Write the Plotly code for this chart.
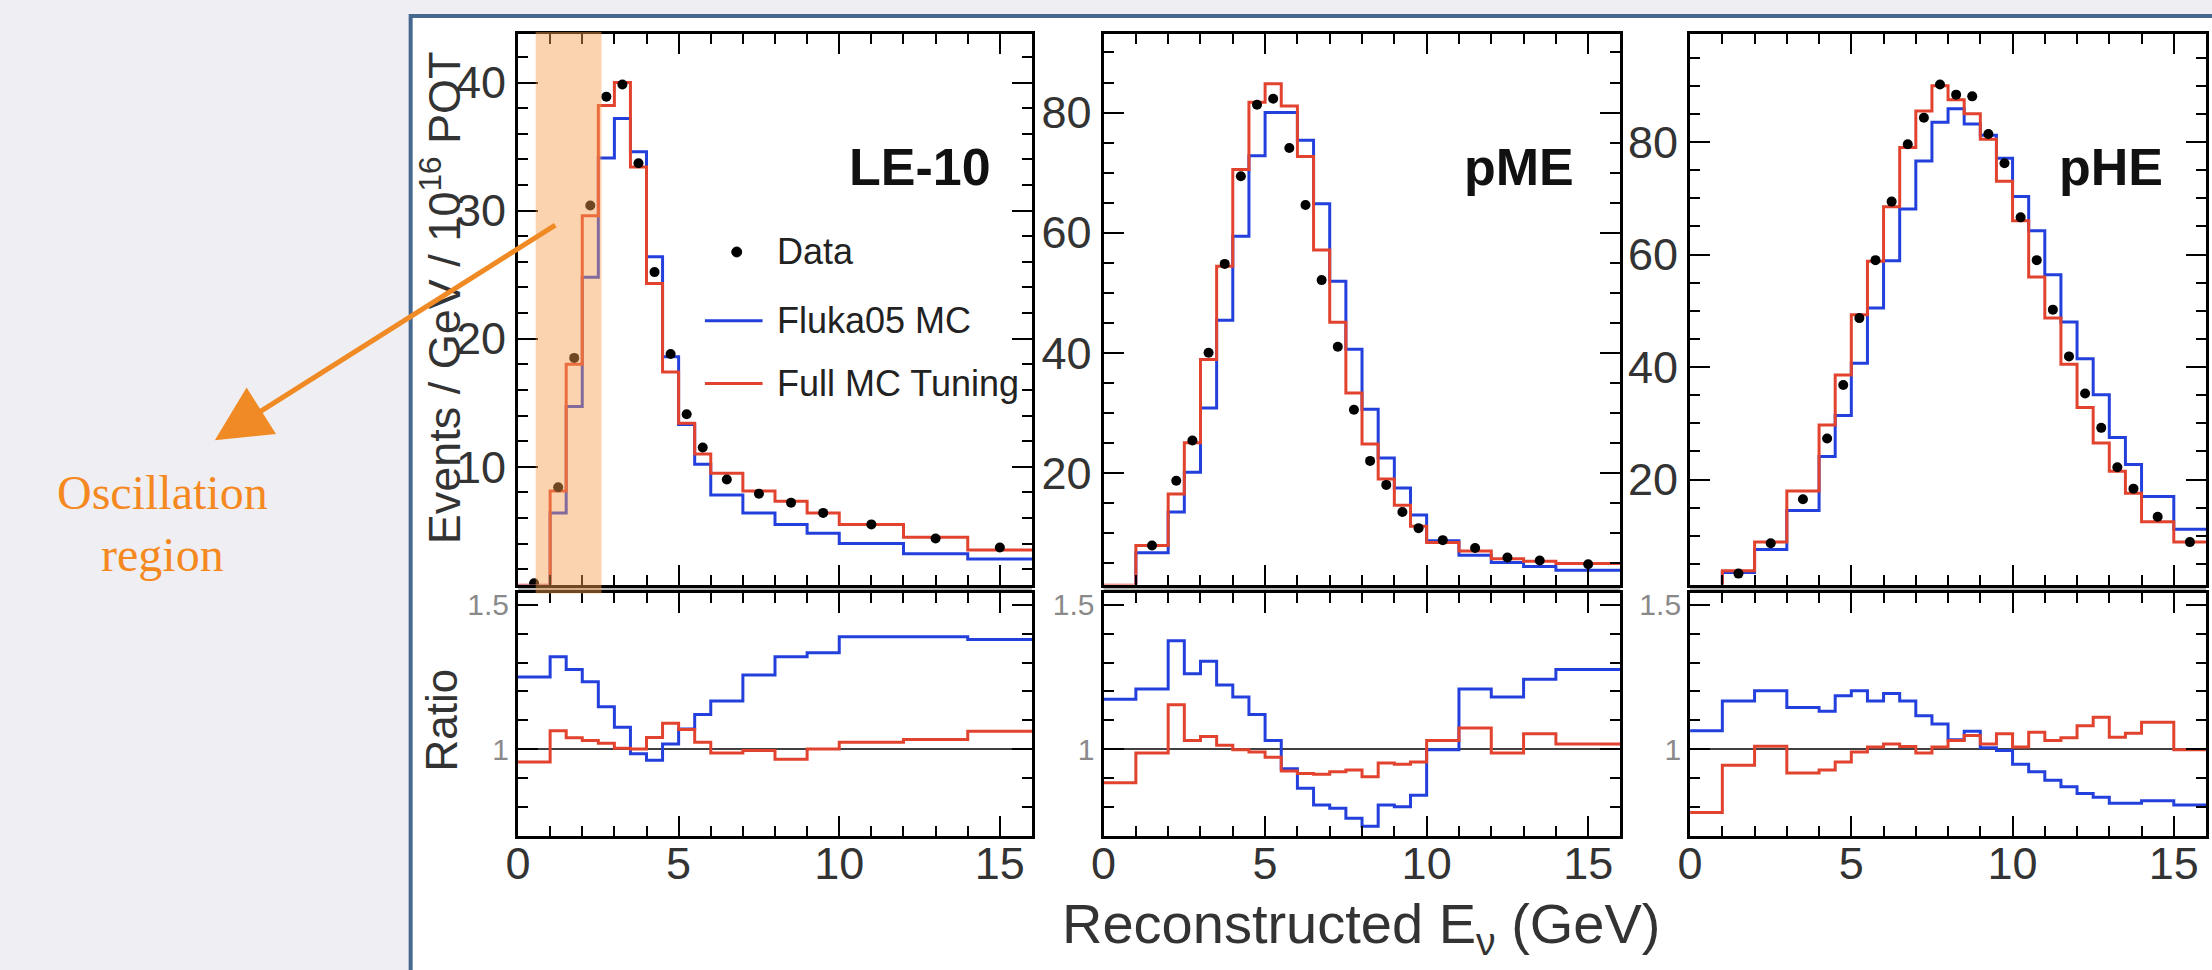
import plotly.graph_objects as go

W, H = 2212, 970

# ---------------- data ----------------
# LE-10 beam
LE_EDGES = [0, 1, 1.5, 2, 2.5, 3, 3.5, 4, 4.5, 5, 5.5, 6, 7, 8, 9, 10, 12, 14, 16]
LE_FLUKA = [0.7, 6.4, 14.7, 24.8, 34.1, 37.2, 34.6, 26.4, 18.6, 13.3, 10.2, 7.8, 6.4, 5.5, 4.8, 4.0, 3.2, 2.8]
LE_TUNED = [0.75, 8.1, 18.0, 29.6, 38.2, 40.0, 33.4, 24.3, 17.4, 13.4, 11.0, 9.5, 8.1, 7.3, 6.4, 5.5, 4.5, 3.5]
LE_DATA_X = [0.5, 1.25, 1.75, 2.25, 2.75, 3.25, 3.75, 4.25, 4.75, 5.25, 5.75, 6.5, 7.5, 8.5, 9.5, 11, 13, 15]
LE_DATA_Y = [0.9, 8.4, 18.5, 30.4, 38.9, 39.85, 33.7, 25.2, 18.8, 14.1, 11.5, 9.0, 7.9, 7.2, 6.4, 5.5, 4.4, 3.7]
LE_RATIO_FLUKA = [1.25, 1.32, 1.276, 1.234, 1.147, 1.076, 0.984, 0.961, 1.018, 1.07, 1.12, 1.167,
                  1.257, 1.32, 1.334, 1.39, 1.39, 1.38]
LE_RATIO_TUNED = [0.955, 1.064, 1.039, 1.03, 1.02, 1.003, 1.0, 1.04, 1.09, 1.068, 1.024, 0.986,
                  0.995, 0.965, 1.0, 1.024, 1.033, 1.062]

# pME beam
ME_EDGES = [0, 1, 2, 2.5, 3, 3.5, 4, 4.5, 5, 5.5, 6, 6.5, 7, 7.5, 8, 8.5, 9, 9.5, 10, 11, 12, 13, 14, 16]
ME_FLUKA = [1.0, 6.7, 13.5, 20.1, 30.8, 45.4, 59.4, 72.8, 80.0, 80.0, 75.4, 64.8, 51.9, 40.6, 30.6,
            22.5, 17.5, 13.0, 8.7, 6.3, 5.1, 4.4, 3.8]
ME_TUNED = [1.3, 7.9, 16.5, 25.0, 38.9, 54.4, 70.5, 81.7, 84.8, 81.1, 72.7, 57.1, 45.1, 33.3, 24.8,
            19.0, 14.6, 11.1, 8.4, 7.0, 5.7, 5.3, 4.9]
ME_DATA_X = [1.5, 2.25, 2.75, 3.25, 3.75, 4.25, 4.75, 5.25, 5.75, 6.25, 6.75, 7.25, 7.75, 8.25, 8.75,
             9.25, 9.75, 10.5, 11.5, 12.5, 13.5, 15]
ME_DATA_Y = [7.9, 18.7, 25.4, 40.0, 54.8, 69.4, 81.3, 82.3, 74.1, 64.6, 52.1, 41.0, 30.5, 22.0, 18.0,
             13.5, 10.8, 8.8, 7.5, 5.9, 5.4, 4.8]
ME_RATIO_FLUKA = [1.173, 1.208, 1.376, 1.261, 1.305, 1.222, 1.181, 1.12, 1.03, 0.932, 0.864, 0.806,
                  0.795, 0.76, 0.732, 0.806, 0.80, 0.84, 0.998, 1.208, 1.181, 1.242, 1.276]
ME_RATIO_TUNED = [0.883, 0.986, 1.154, 1.03, 1.044, 1.013, 0.998, 0.99, 0.972, 0.924, 0.915, 0.913,
                  0.921, 0.927, 0.904, 0.952, 0.947, 0.955, 1.03, 1.073, 0.986, 1.053, 1.018]

# pHE beam
HE_EDGES = [0, 1, 2, 3, 4, 4.5, 5, 5.5, 6, 6.5, 7, 7.5, 8, 8.5, 9, 9.5, 10, 10.5, 11, 11.5, 12, 12.5,
            13, 13.5, 14, 15, 16]
HE_FLUKA = [0.9, 3.5, 7.6, 14.5, 24.1, 31.4, 40.7, 50.5, 58.9, 68.1, 76.6, 83.5, 85.9, 83.2, 81.2,
            77.1, 70.3, 64.2, 56.4, 48.0, 41.5, 35.1, 27.5, 22.7, 17.0, 11.2]
HE_TUNED = [0.9, 3.8, 8.9, 18.0, 29.7, 38.6, 49.3, 58.8, 68.5, 79.0, 85.5, 90.0, 87.5, 85.0, 80.5,
            73.0, 66.0, 56.0, 48.7, 40.5, 32.8, 26.5, 21.5, 17.6, 12.5, 8.9]
HE_DATA_X = [1.5, 2.5, 3.5, 4.25, 4.75, 5.25, 5.75, 6.25, 6.75, 7.25, 7.75, 8.25, 8.75, 9.25, 9.75,
             10.25, 10.75, 11.25, 11.75, 12.25, 12.75, 13.25, 13.75, 14.5, 15.5]
HE_DATA_Y = [3.3, 8.7, 16.5, 27.3, 36.8, 48.7, 59.0, 69.4, 79.6, 84.3, 90.2, 88.4, 88.1, 81.4, 76.2,
             66.6, 59.0, 50.2, 41.9, 35.3, 29.2, 22.2, 18.4, 13.4, 8.9]
HE_RATIO_FLUKA = [1.064, 1.167, 1.202, 1.144, 1.131, 1.185, 1.202, 1.167, 1.193, 1.167, 1.116, 1.087,
                  1.032, 1.062, 1.005, 0.995, 0.947, 0.921, 0.892, 0.869, 0.846, 0.833, 0.812, 0.812,
                  0.821, 0.806]
HE_RATIO_TUNED = [0.78, 0.944, 1.01, 0.917, 0.927, 0.955, 0.99, 1.007, 1.018, 1.009, 0.986, 1.007,
                  1.03, 1.047, 1.018, 1.053, 1.007, 1.058, 1.03, 1.039, 1.081, 1.11, 1.041, 1.055,
                  1.093, 0.998]

PANEL_NAMES = ["LE-10", "pME", "pHE"]
OSC_REGION = [0.55, 2.6]          # GeV, highlighted oscillation region on LE-10
X_RANGE = [0, 16]
TOP_RANGES = [[0.8, 43.8], [1.4, 93.1], [1.35, 99.2]]
TOP_DTICK = [10, 20, 20]
TOP_MINOR = [2, 5, 5]
RATIO_RANGE = [0.70, 1.543]

# ---------------- layout helpers ----------------
def px_x(p):
    return p / W


def px_y(p):
    return 1 - p / H


PANEL_X = [(508, 1025), (1097, 1617), (1687, 2206)]
TOP_Y = (30, 583)
RAT_Y = (591, 835)

FONT = "Liberation Sans, Arial, sans-serif"
BLUE = "#2340dd"
RED = "#e2432f"

panels = [
    (LE_EDGES, LE_FLUKA, LE_TUNED, LE_DATA_X, LE_DATA_Y, LE_RATIO_FLUKA, LE_RATIO_TUNED),
    (ME_EDGES, ME_FLUKA, ME_TUNED, ME_DATA_X, ME_DATA_Y, ME_RATIO_FLUKA, ME_RATIO_TUNED),
    (HE_EDGES, HE_FLUKA, HE_TUNED, HE_DATA_X, HE_DATA_Y, HE_RATIO_FLUKA, HE_RATIO_TUNED),
]

fig = go.Figure()


def step(edges, vals):
    return list(edges), list(vals) + [vals[-1]]


for i, (edges, fl, tu, dx, dy, rfl, rtu) in enumerate(panels):
    xt, yt = ("x" if i == 0 else f"x{2*i+1}"), ("y" if i == 0 else f"y{2*i+1}")
    xr, yr = f"x{2*i+2}", f"y{2*i+2}"
    ex, ey = step(edges, fl)
    fig.add_trace(go.Scatter(x=ex, y=ey, mode="lines", line=dict(shape="hv", color=BLUE, width=3),
                             xaxis=xt, yaxis=yt, showlegend=False, hoverinfo="skip"))
    ex, ey = step(edges, tu)
    fig.add_trace(go.Scatter(x=ex, y=ey, mode="lines", line=dict(shape="hv", color=RED, width=3),
                             xaxis=xt, yaxis=yt, showlegend=False, hoverinfo="skip"))
    fig.add_trace(go.Scatter(x=dx, y=dy, mode="markers",
                             marker=dict(color="black", size=10),
                             error_x=dict(type="constant", value=0.13, thickness=2, width=0, color="black"),
                             xaxis=xt, yaxis=yt, showlegend=False))
    ex, ey = step(edges, rfl)
    fig.add_trace(go.Scatter(x=ex, y=ey, mode="lines", line=dict(shape="hv", color=BLUE, width=3),
                             xaxis=xr, yaxis=yr, showlegend=False, hoverinfo="skip"))
    ex, ey = step(edges, rtu)
    fig.add_trace(go.Scatter(x=ex, y=ey, mode="lines", line=dict(shape="hv", color=RED, width=3),
                             xaxis=xr, yaxis=yr, showlegend=False, hoverinfo="skip"))

common = dict(showline=True, linecolor="black", linewidth=3, mirror="ticks", ticks="inside",
              tickcolor="black", tickwidth=2, showgrid=False, zeroline=False)

layout = dict(
    width=W, height=H, autosize=False,
    margin=dict(l=0, r=0, t=0, b=0),
    paper_bgcolor="#efeff3", plot_bgcolor="white",
    font=dict(family=FONT, color="#333333"),
    showlegend=False,
)

for i in range(3):
    x0, x1 = PANEL_X[i]
    kt = "xaxis" if i == 0 else f"xaxis{2*i+1}"
    kty = "yaxis" if i == 0 else f"yaxis{2*i+1}"
    kr, kry = f"xaxis{2*i+2}", f"yaxis{2*i+2}"
    at = "x" if i == 0 else f"x{2*i+1}"
    ayt = "y" if i == 0 else f"y{2*i+1}"
    layout[kt] = dict(common, domain=[px_x(x0), px_x(x1)], anchor=ayt, range=X_RANGE,
                      tick0=0, dtick=5, ticklen=20, showticklabels=False,
                      minor=dict(dtick=1, ticklen=10, tickwidth=2, tickcolor="black", ticks="inside"))
    layout[kty] = dict(common, domain=[px_y(TOP_Y[1]), px_y(TOP_Y[0])], anchor=at,
                       range=TOP_RANGES[i], tick0=0, dtick=TOP_DTICK[i], ticklen=20,
                       tickfont=dict(size=45, color="#333333", family=FONT),
                       minor=dict(dtick=TOP_MINOR[i], tick0=0, ticklen=10, tickwidth=2,
                                  tickcolor="black", ticks="inside"))
    layout[kr] = dict(common, domain=[px_x(x0), px_x(x1)], anchor=f"y{2*i+2}", range=X_RANGE,
                      tick0=0, dtick=5, ticklen=20, ticklabelstandoff=-14,
                      tickfont=dict(size=45, color="#333333", family=FONT),
                      minor=dict(dtick=1, ticklen=10, tickwidth=2, tickcolor="black", ticks="inside"))
    layout[kry] = dict(common, domain=[px_y(RAT_Y[1]), px_y(RAT_Y[0])], anchor=f"x{2*i+2}",
                       range=RATIO_RANGE, tick0=0, dtick=0.5, ticklen=20,
                       tickfont=dict(size=30, color="#8a8a8a", family=FONT),
                       minor=dict(dtick=0.1, tick0=0, ticklen=10, tickwidth=2,
                                  tickcolor="black", ticks="inside"))

fig.update_layout(**layout)

shapes = []
# slide frame
shapes.append(dict(type="rect", xref="paper", yref="paper", x0=px_x(400), x1=1.05,
                   y0=-0.05, y1=px_y(12), line=dict(color="#46688f", width=4),
                   fillcolor="white", layer="below"))
for i in range(3):
    x0, x1 = PANEL_X[i]
    shapes.append(dict(type="rect", xref="paper", yref="paper", x0=px_x(x0), x1=px_x(x1),
                       y0=px_y(590), y1=px_y(585), fillcolor="#b8b8b8", line=dict(width=0),
                       layer="below"))
    shapes.append(dict(type="line", xref=f"x{2*i+2}", yref=f"y{2*i+2}", x0=X_RANGE[0], x1=X_RANGE[1],
                       y0=1, y1=1, line=dict(color="black", width=1.5), layer="below"))
# oscillation band
shapes.append(dict(type="rect", xref="x", yref="paper", x0=OSC_REGION[0], x1=OSC_REGION[1],
                   y0=px_y(592), y1=px_y(28), fillcolor="rgba(246,160,77,0.45)",
                   line=dict(width=0), layer="above"))
# legend glyphs (LE-10 panel)
shapes.append(dict(type="circle", xref="paper", yref="paper",
                   x0=px_x(723), x1=px_x(733), y0=px_y(254), y1=px_y(244),
                   fillcolor="black", line=dict(color="black", width=1)))
shapes.append(dict(type="line", xref="paper", yref="paper", x0=px_x(696), x1=px_x(754),
                   y0=px_y(318), y1=px_y(318), line=dict(color=BLUE, width=3)))
shapes.append(dict(type="line", xref="paper", yref="paper", x0=px_x(696), x1=px_x(754),
                   y0=px_y(381), y1=px_y(381), line=dict(color=RED, width=3)))
fig.update_layout(shapes=shapes)

ann = []
label_pos = [(912, 164), (1515, 164), (2110, 164)]
for name, (ax_, ay_) in zip(PANEL_NAMES, label_pos):
    ann.append(dict(text=f"<b>{name}</b>", x=px_x(ax_), y=px_y(ay_), xref="paper", yref="paper",
                    showarrow=False, font=dict(size=52, color="#111111", family=FONT),
                    xanchor="center", yanchor="middle"))
for txt, yy in [("Data", 249), ("Fluka05 MC", 318), ("Full MC Tuning", 381)]:
    ann.append(dict(text=txt, x=px_x(767), y=px_y(yy), xref="paper", yref="paper", showarrow=False,
                    font=dict(size=36, color="#222222", family=FONT), xanchor="left", yanchor="middle"))
ann.append(dict(text="Events / GeV / 10<sup>16</sup> POT", x=px_x(430), y=px_y(295), xref="paper",
                yref="paper", showarrow=False, textangle=-90,
                font=dict(size=45, color="#333333", family=FONT), xanchor="center", yanchor="middle"))
ann.append(dict(text="Ratio", x=px_x(431), y=px_y(719), xref="paper", yref="paper", showarrow=False,
                textangle=-90, font=dict(size=44, color="#333333", family=FONT),
                xanchor="center", yanchor="middle"))
ann.append(dict(text="Reconstructed E<sub>ν</sub> (GeV)", x=px_x(1356), y=px_y(927), xref="paper",
                yref="paper", showarrow=False, font=dict(size=56, color="#333333", family=FONT),
                xanchor="center", yanchor="middle"))
ann.append(dict(text="Oscillation<br>region", x=px_x(150), y=px_y(522), xref="paper", yref="paper",
                showarrow=False, font=dict(size=48, color="#f5891f", family="Liberation Serif, serif"),
                xanchor="center", yanchor="middle"))
ann.append(dict(text="", x=px_x(203), y=px_y(438), xref="paper", yref="paper", showarrow=True,
                ax=342, ay=-216, arrowcolor="#f08a24", arrowwidth=5, arrowhead=2, arrowsize=2.2,
                standoff=0))
fig.update_layout(annotations=ann)

fig.write_html("out.html")
